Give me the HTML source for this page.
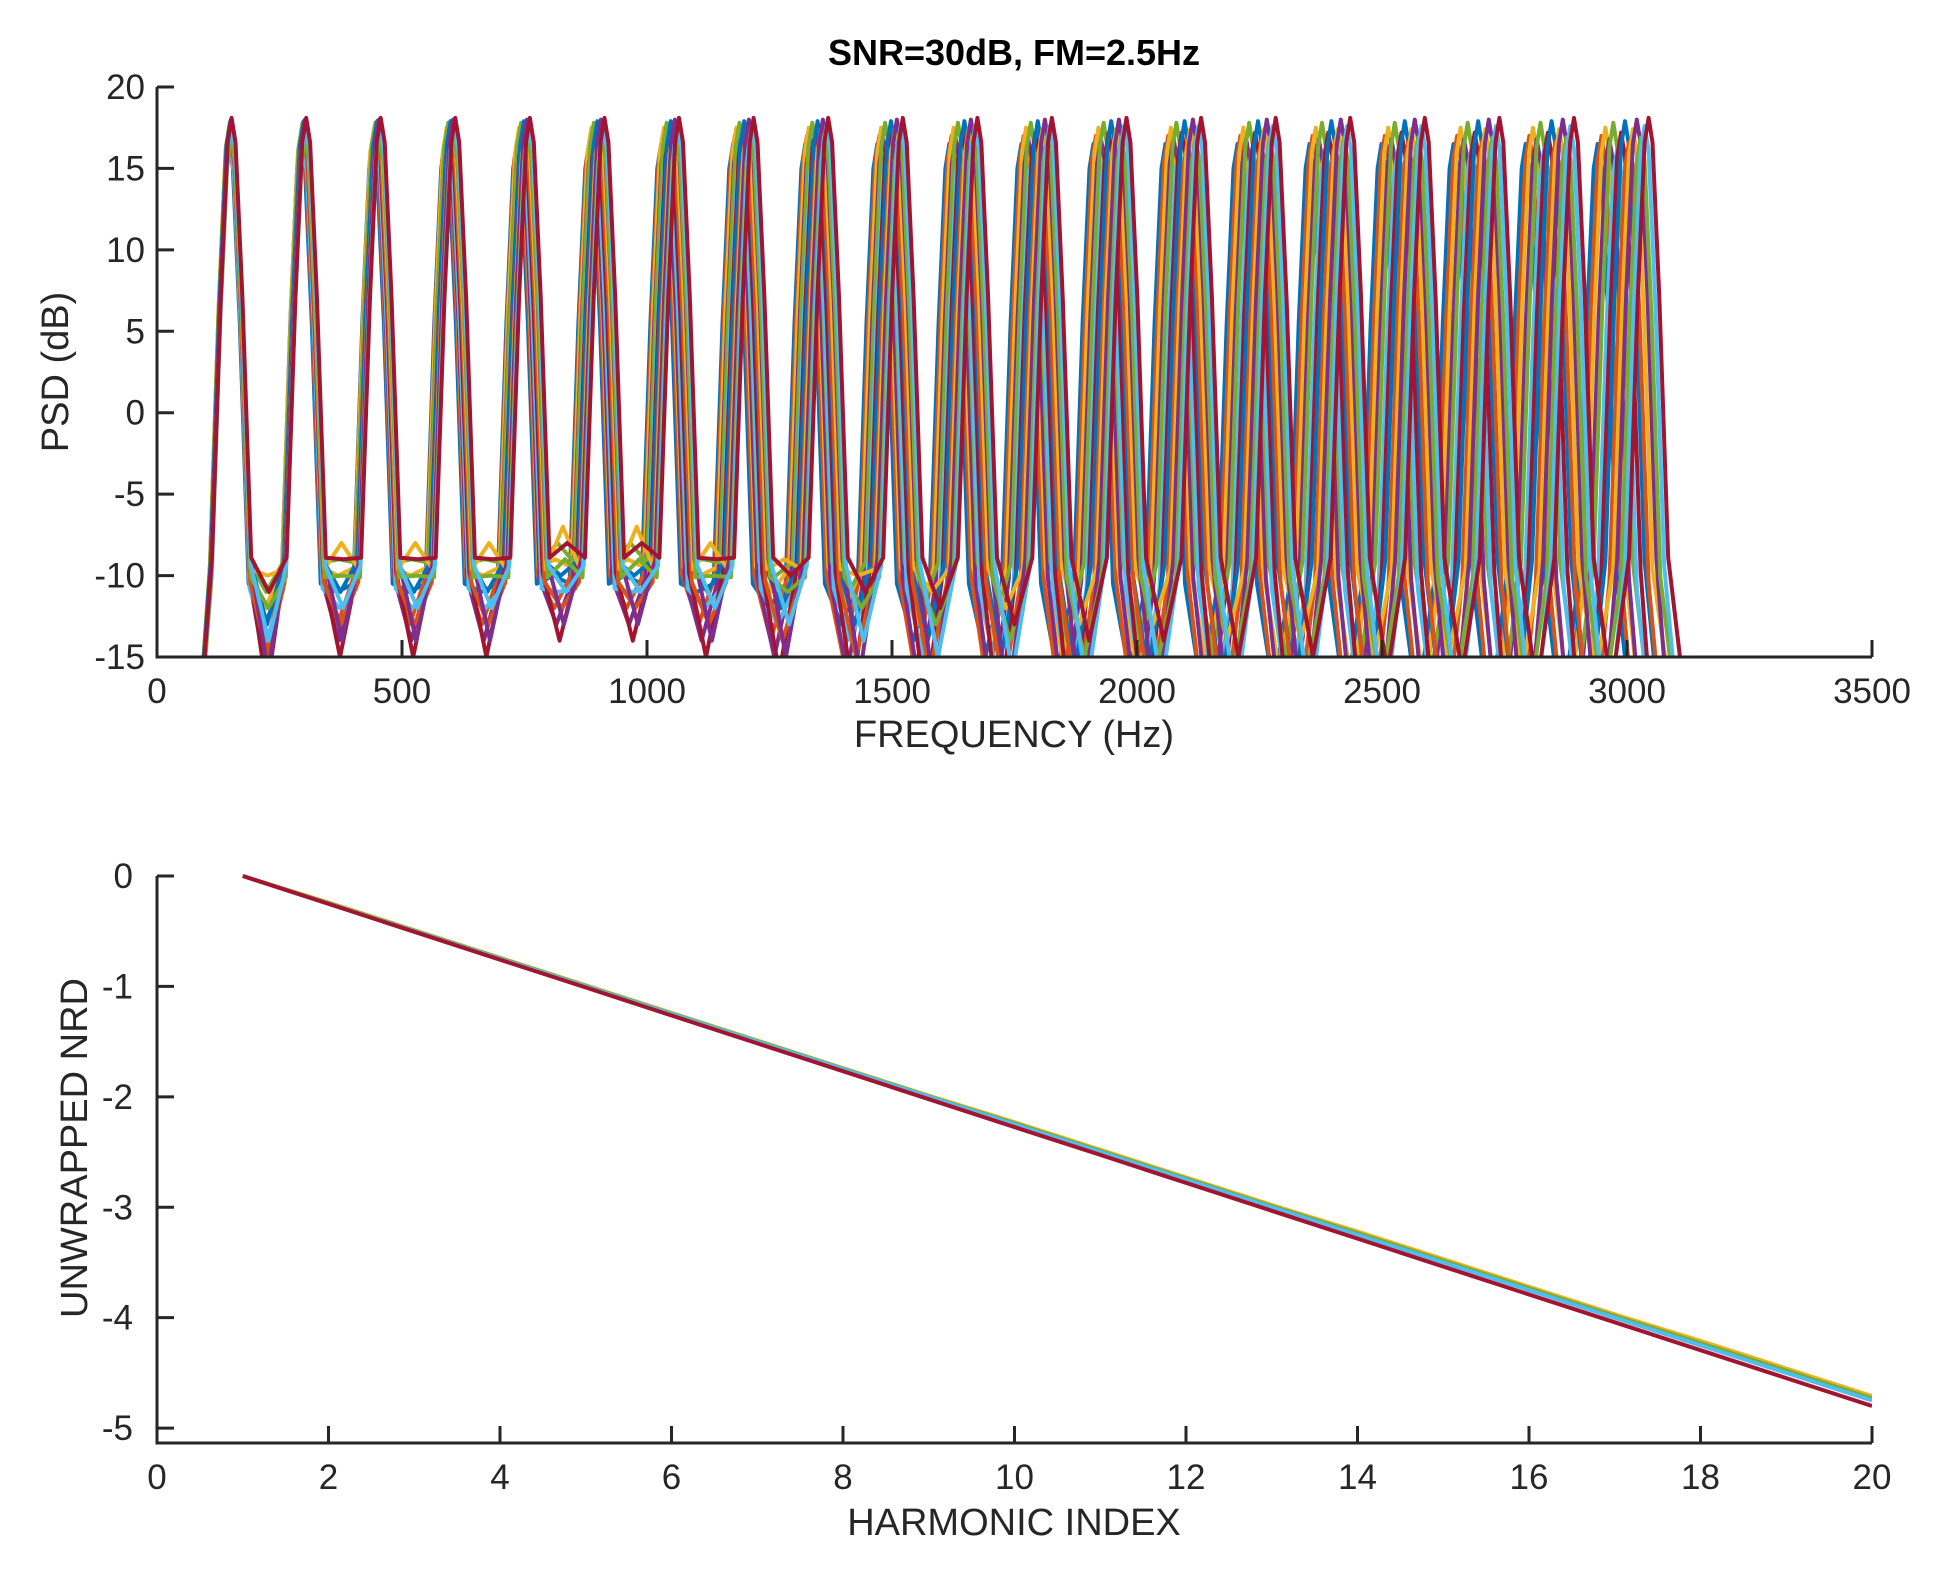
<!DOCTYPE html>
<html><head><meta charset="utf-8">
<style>
html,body{margin:0;padding:0;background:#fff;}
svg{display:block;font-family:"Liberation Sans",sans-serif;}
</style></head>
<body>
<svg id="fig" width="1948" height="1569" viewBox="0 0 1948 1569" xmlns="http://www.w3.org/2000/svg">
<defs>
<clipPath id="clipTop"><rect x="157" y="80" width="1715" height="577"/></clipPath>
<clipPath id="clipBot"><rect x="157" y="860" width="1715" height="583"/></clipPath>
</defs>
<text x="1014" y="65" text-anchor="middle" font-size="36" font-weight="bold" fill="#000">SNR=30dB, FM=2.5Hz</text>
<g id="topplot"></g>
<g id="botplot"></g>
<text x="1014" y="747" text-anchor="middle" font-size="38" fill="#262626">FREQUENCY (Hz)</text>
<text transform="translate(68,372) rotate(-90)" text-anchor="middle" font-size="38" fill="#262626">PSD (dB)</text>
<text x="1014" y="1535" text-anchor="middle" font-size="38" fill="#262626">HARMONIC INDEX</text>
<text transform="translate(87,1148) rotate(-90)" text-anchor="middle" font-size="38" fill="#262626">UNWRAPPED NRD</text>
</svg>
<script>
// ---- top chart data ----
const f0Values = [147.0,147.4,147.8,148.2,148.6,149.0,149.4,149.8,150.2,150.6,151.0,151.4,151.8,152.2];
const peakLevels = [16.5,17.0,17.5,16.8,17.8,16.2,17.2,17.9,16.6,17.4,18.0,16.9,17.6,18.1];
const peakOffsetsHz = [-40,-22,-8,0,8,22,40];
const peakShapeDb = [-10,6,15.5,0,15.5,6,-10];
const valleyLevels = [-13,-11,-11,-11,-10,-10,-11,-12,-13,-14,-15,-16,-16,-17,-17,-18,-18,-19,-19,-20,-40];
const seriesValleyShift = [0,-2,1,-3,2,-1,-4,0,-2,3,-3,1,-1,2];
const psdXTicks = [0,500,1000,1500,2000,2500,3000,3500];
const psdYTicks = [-15,-10,-5,0,5,10,15,20];
// ---- bottom chart data ----
const harmonicIndex = [1,2,3,4,5,6,7,8,9,10,11,12,13,14,15,16,17,18,19,20];
const nrdOrange = [0,-0.24,-0.49,-0.74,-0.99,-1.24,-1.49,-1.74,-1.99,-2.23,-2.48,-2.73,-2.98,-3.22,-3.47,-3.72,-3.97,-4.21,-4.46,-4.71];
const nrdGreen  = [0,-0.245,-0.495,-0.745,-0.995,-1.245,-1.495,-1.745,-1.995,-2.24,-2.49,-2.74,-2.99,-3.235,-3.485,-3.735,-3.985,-4.23,-4.48,-4.73];
const nrdCyan   = [0,-0.25,-0.5,-0.75,-1.0,-1.25,-1.5,-1.75,-2.0,-2.25,-2.5,-2.75,-3.0,-3.25,-3.5,-3.75,-4.0,-4.25,-4.5,-4.75];
const nrdRed    = [0,-0.253,-0.505,-0.758,-1.01,-1.263,-1.516,-1.768,-2.021,-2.274,-2.526,-2.779,-3.032,-3.284,-3.537,-3.79,-4.042,-4.295,-4.547,-4.8];
const nrdXTicks = [0,2,4,6,8,10,12,14,16,18,20];
const nrdYTicks = [-5,-4,-3,-2,-1,0];

const NS='http://www.w3.org/2000/svg';
const colors=['#0072BD','#D95319','#EDB120','#7E2F8E','#77AC30','#4DBEEE','#A2142F'];
function mk(tag,attrs,parent){const e=document.createElementNS(NS,tag);for(const k in attrs)e.setAttribute(k,attrs[k]);parent.appendChild(e);return e;}

const L=157,R=1872,T1=87,B1=657;
const xT=v=>L+(v-0)/(3500-0)*(R-L);
const yT=v=>B1-(v-(-15))/(20-(-15))*(B1-T1);
const topG=document.getElementById('topplot');
const gLines=mk('g',{'clip-path':'url(#clipTop)'},topG);
f0Values.forEach((f0,s)=>{
  const pts=[];
  pts.push([xT(60),yT(-30)]);
  for(let k=1;k<=20;k++){
    const c=k*f0;
    peakOffsetsHz.forEach((o,i)=>{
      const v=i===3?peakLevels[s]:peakShapeDb[i]+(peakLevels[s]-17);
      pts.push([xT(c+o),yT(v)]);
    });
    pts.push([xT(c+f0/2),yT(valleyLevels[k-1]+seriesValleyShift[s])]);
  }
  const p=mk('polyline',{points:pts.map(q=>q[0].toFixed(1)+','+q[1].toFixed(1)).join(' '),fill:'none',stroke:colors[s%7],'stroke-width':4,'stroke-linejoin':'round'},gLines);
  
  
});
const axT=mk('path',{d:`M${L},${T1}V${B1}H${R}`,fill:'none',stroke:'#262626','stroke-width':3},topG);


psdXTicks.forEach(v=>{
  mk('line',{x1:xT(v),x2:xT(v),y1:B1,y2:B1-17,stroke:'#262626','stroke-width':3},topG);
  const t=mk('text',{x:xT(v),y:B1+46,'text-anchor':'middle','font-size':35,fill:'#262626'},topG);
  t.textContent=v;
  
  
});
psdYTicks.forEach(v=>{
  mk('line',{x1:L,x2:L+17,y1:yT(v),y2:yT(v),stroke:'#262626','stroke-width':3},topG);
  const t=mk('text',{x:L-12,y:yT(v)+12,'text-anchor':'end','font-size':35,fill:'#262626'},topG);
  t.textContent=v;
  
  
});

const T2=876,B2=1443;
const xB=v=>L+(v-0)/(20-0)*(R-L);
const yB=v=>T2+(0-v)/(0-(-5.135))*(B2-T2);
const botG=document.getElementById('botplot');
const gB=mk('g',{'clip-path':'url(#clipBot)'},botG);
[[nrdOrange,'#EDB120'],[nrdGreen,'#77AC30'],[nrdCyan,'#4DBEEE'],[nrdRed,'#A2142F']].forEach((sr,i)=>{
  const pts=harmonicIndex.map((h,j)=>xB(h).toFixed(1)+','+yB(sr[0][j]).toFixed(1)).join(' ');
  const p=mk('polyline',{points:pts,fill:'none',stroke:sr[1],'stroke-width':4},gB);
  
  
});
const axB=mk('path',{d:`M${L},${T2}V${B2}H${R}`,fill:'none',stroke:'#262626','stroke-width':3},botG);


nrdXTicks.forEach(v=>{
  mk('line',{x1:xB(v),x2:xB(v),y1:B2,y2:B2-17,stroke:'#262626','stroke-width':3},botG);
  const t=mk('text',{x:xB(v),y:B2+46,'text-anchor':'middle','font-size':35,fill:'#262626'},botG);
  t.textContent=v;
  
  
});
nrdYTicks.forEach(v=>{
  mk('line',{x1:L,x2:L+17,y1:yB(v),y2:yB(v),stroke:'#262626','stroke-width':3},botG);
  const t=mk('text',{x:L-24,y:yB(v)+12,'text-anchor':'end','font-size':35,fill:'#262626'},botG);
  t.textContent=v;
  
  
});
</script>
</body></html>
